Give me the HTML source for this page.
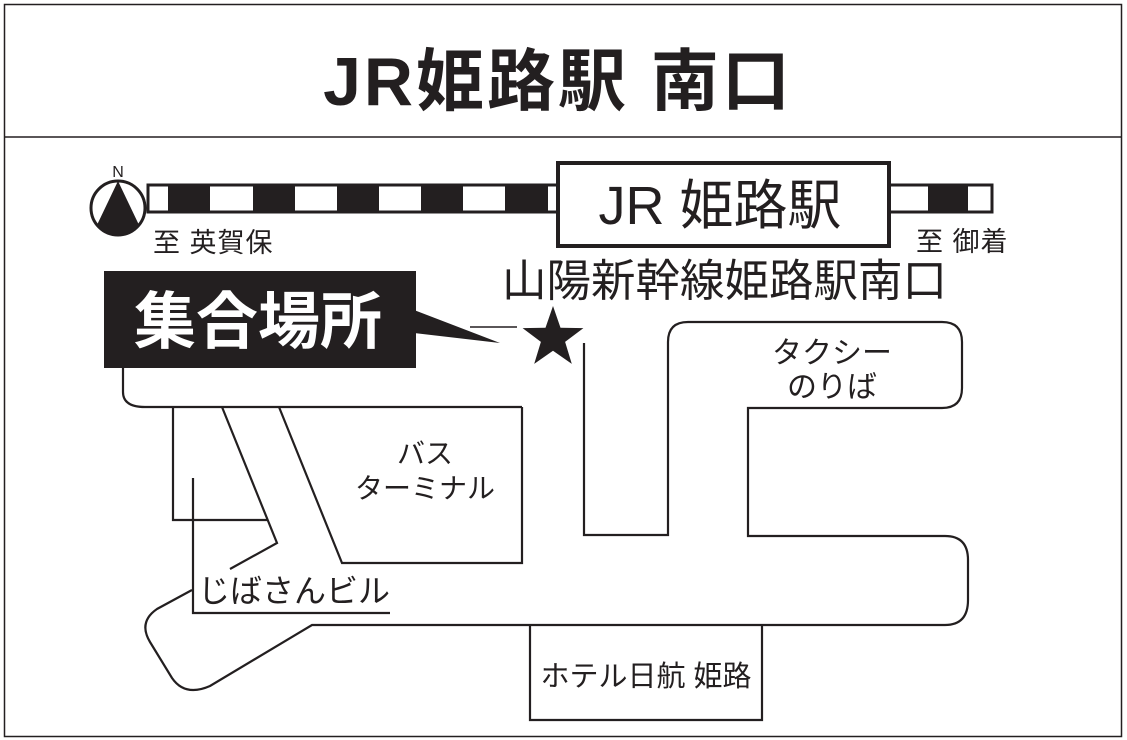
<!DOCTYPE html>
<html><head><meta charset="utf-8"><style>
html,body{margin:0;padding:0;background:#fff;}
svg{display:block;}
text{font-family:"Liberation Sans","Noto Sans CJK JP",sans-serif;fill:#231f20;}
</style></head><body>
<svg width="1127" height="740" viewBox="0 0 1127 740" xmlns="http://www.w3.org/2000/svg">
<rect x="4.5" y="4.5" width="1117" height="732" fill="#fff" stroke="#231f20" stroke-width="1.5"/>
<line x1="4" y1="137" x2="1122" y2="137" stroke="#231f20" stroke-width="1.5"/>
<text x="558" y="105" font-size="68" font-weight="bold" text-anchor="middle" letter-spacing="3">JR姫路駅 南口</text>

<!-- compass -->
<circle cx="118" cy="208" r="27" fill="#fff" stroke="#231f20" stroke-width="3"/>
<path d="M118,181 L97,225 A27,27 0 0 0 139,225 Z" fill="#231f20"/>
<text x="118" y="177" font-size="16" text-anchor="middle">N</text>

<!-- rail left -->
<rect x="148" y="185" width="410" height="27" fill="#fff" stroke="#231f20" stroke-width="3"/>
<g fill="#231f20">
<rect x="168" y="185" width="42" height="27"/>
<rect x="253" y="185" width="42" height="27"/>
<rect x="337" y="185" width="42" height="27"/>
<rect x="421" y="185" width="42" height="27"/>
<rect x="505" y="185" width="43" height="27"/>
</g>
<!-- rail right -->
<rect x="889" y="185" width="103" height="27" fill="#fff" stroke="#231f20" stroke-width="3"/>
<rect x="928" y="185" width="40" height="27" fill="#231f20"/>
<!-- station -->
<rect x="558" y="163" width="331" height="83" fill="#fff" stroke="#231f20" stroke-width="4"/>
<text x="720" y="224" font-size="54" text-anchor="middle">JR 姫路駅</text>

<text x="153" y="252" font-size="27" letter-spacing="1">至 英賀保</text>
<text x="916" y="251" font-size="27" letter-spacing="1">至 御着</text>
<text x="502" y="296" font-size="44.5">山陽新幹線姫路駅南口</text>

<!-- meeting box -->
<rect x="104" y="271" width="312" height="97" fill="#231f20"/>
<text x="258" y="343" font-size="62" font-weight="bold" text-anchor="middle" style="fill:#fff">集合場所</text>
<path d="M414,310 L500,343 L414,333 Z" fill="#231f20"/>
<line x1="470" y1="327" x2="517" y2="327" stroke="#231f20" stroke-width="1.5"/>
<!-- star -->
<polygon points="553,306 560.5,327.7 583.4,328.1 565.1,341.9 571.8,363.9 553,350.8 534.2,363.9 540.9,341.9 522.6,328.1 545.5,327.7" fill="#231f20"/>

<g fill="none" stroke="#231f20" stroke-width="2.2">
<path d="M123,368 V392 Q123,407 145,407 H522"/>
<path d="M173,407 V520 H268"/>
<path d="M222,407 L277,543 L230,569"/>
<path d="M192,590 L157,609 Q138,622 150,642 L172,678 Q185,697 210,686 L312,625 H945 Q968,625 968,600 V560 Q968,536 945,536 H748 V408 H942 Q962,408 962,388 V342 Q962,322 942,322 H688 Q668,322 668,342 V535 H584 V343"/>
<path d="M279,407 L342,563 H522 V407"/>
<path d="M530,626 V720 H762 V626"/>
<path d="M193,478 V613 H390"/>
</g>

<text x="425" y="463" font-size="28" text-anchor="middle">バス</text>
<text x="425" y="498" font-size="28" text-anchor="middle">ターミナル</text>
<text x="198" y="602" font-size="32">じばさんビル</text>
<text x="832" y="363" font-size="30" text-anchor="middle">タクシー</text>
<text x="832" y="397" font-size="30" text-anchor="middle">のりば</text>
<text x="646" y="686" font-size="29" text-anchor="middle">ホテル日航 姫路</text>
</svg>
</body></html>
